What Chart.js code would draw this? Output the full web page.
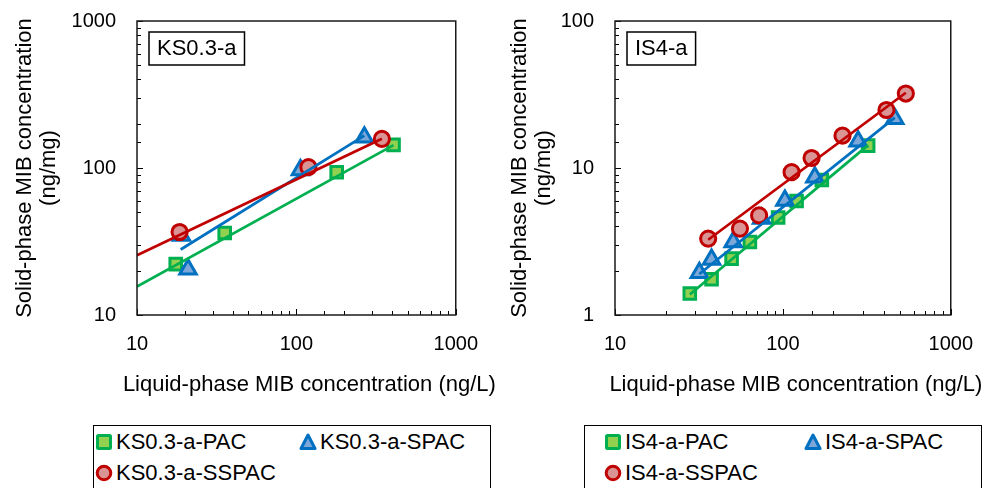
<!DOCTYPE html>
<html>
<head>
<meta charset="utf-8">
<script src="https://cdn.jsdelivr.net/npm/chart.js@4"></script>
<style>
  body { margin: 0; background: #fff; width: 990px; height: 488px; overflow: hidden; position: relative;
         font-family: "Liberation Sans", Arial, sans-serif; }
  canvas { position: absolute; top: -12px; }
  .legend { position: absolute; top: 425px; height: 80px; width: 398px; border: 1.5px solid #000;
            box-sizing: border-box; font-size: 22px; color: #000; }
  .item { position: absolute; display: flex; align-items: center; white-space: nowrap; height: 26px; }
  .item span { margin-left: 3px; }
</style>
</head>
<body>
<canvas id="chartKS" width="495" height="432" style="left:0"></canvas>
<canvas id="chartIS" width="495" height="432" style="left:495px"></canvas>
<div class="legend" id="legKS" style="left:93px"></div>
<div class="legend" id="legIS" style="left:584px"></div>
<script>
// KS0.3-a
const ksPacX = [17.5, 35.5, 179, 407]
const ksPacY = [22.2, 36.1, 93.6, 143.6]
const ksSpacX = [20.9, 19, 106, 267]
const ksSpacY = [20.5, 34.8, 97, 162]
const ksSspacX = [18.5, 119, 344]
const ksSspacY = [36.7, 101.3, 157.8]
// fitted lines (end points)
const ksPacFitX = [10, 407]
const ksPacFitY = [15.6, 143]
const ksSpacFitX = [18.8, 267]
const ksSpacFitY = [27.9, 166]
const ksSspacFitX = [10, 344]
const ksSspacFitY = [25.5, 158]

// IS4-a
const isPacX = [27.9, 37.6, 49.5, 63.6, 93.7, 120.7, 170.6, 322]
const isPacY = [1.40, 1.75, 2.42, 3.14, 4.6, 5.96, 8.29, 14.2]
const isSpacX = [31.8, 37.6, 50.6, 74.7, 102.8, 155, 280.6, 464]
const isSpacY = [1.94, 2.39, 3.14, 4.53, 6.02, 8.66, 15.2, 21.6]
const isSspacX = [35.9, 55.5, 72.2, 112.7, 148.2, 226.6, 414, 540]
const isSspacY = [3.31, 3.87, 4.76, 9.37, 11.7, 16.6, 24.8, 32.1]
const isPacFitX = [27.9, 322]
const isPacFitY = [1.38, 14.3]
const isSpacFitX = [31.8, 464]
const isSpacFitY = [1.9, 22]
const isSspacFitX = [35.9, 540]
const isSspacFitY = [3.25, 32.5]

const xTitle = "Liquid-phase MIB concentration (ng/L)"
const yTitle = ["Solid-phase MIB concentration", "(ng/mg)"]

const FONT = '"Liberation Sans", Arial, sans-serif'
const styles = {
  PAC:   { border: "#00B050", fill: "#92D050", point: "rect", radius: 8.2 },
  SPAC:  { border: "#0070C0", fill: "#7DA7D9", point: "triangle", radius: 9.5 },
  SSPAC: { border: "#C00000", fill: "#DB9494", point: "circle", radius: 7.6 },
}

function pts(xs, ys) {
  return xs.map((x, i) => ({ x: x, y: ys[i] }))
}

function isMajor(v) {
  const l = Math.log10(v)
  return Math.abs(Math.round(l) - l) < 1e-9
}

function markers(label, xs, ys, st, order) {
  return {
    label: label, data: pts(xs, ys), showLine: false, order: order,
    pointStyle: st.point, pointRadius: st.radius, pointHoverRadius: st.radius,
    pointBackgroundColor: st.fill, pointBorderColor: st.border, pointBorderWidth: 3,
  }
}

function fitLine(xs, ys, st) {
  return {
    label: "", data: pts(xs, ys), showLine: true, order: 0,
    borderColor: st.border, borderWidth: 2.75, pointRadius: 0, pointHoverRadius: 0,
  }
}

const framePlugin = {
  id: "frame",
  afterDraw(chart) {
    const { ctx, chartArea: a, scales } = chart
    const o = chart.options.plugins.frame
    ctx.save()
    ctx.strokeStyle = "#000"
    ctx.lineWidth = 1
    scales.x.ticks.forEach((t) => {
      const px = Math.round(scales.x.getPixelForValue(t.value)) + 0.5
      const len = isMajor(t.value) ? 6 : 4
      ctx.beginPath(); ctx.moveTo(px, a.bottom); ctx.lineTo(px, a.bottom - len); ctx.stroke()
    })
    scales.y.ticks.forEach((t) => {
      const py = Math.round(scales.y.getPixelForValue(t.value)) + 0.5
      const len = isMajor(t.value) ? 6 : 4
      ctx.beginPath(); ctx.moveTo(a.left, py); ctx.lineTo(a.left + len, py); ctx.stroke()
    })
    ctx.lineWidth = 1.5
    ctx.strokeStyle = "#1a1a1a"
    ctx.strokeRect(a.left, a.top, a.right - a.left, a.bottom - a.top)

    // sample name box
    ctx.font = "22px " + FONT
    const w = ctx.measureText(o.name).width + 16
    ctx.lineWidth = 1.5
    ctx.strokeStyle = "#000"
    ctx.strokeRect(a.left + 12, a.top + 11, w, 33)
    ctx.fillStyle = "#000"
    ctx.textBaseline = "middle"
    ctx.textAlign = "left"
    ctx.fillText(o.name, a.left + 20, a.top + 28)

    // x axis title
    ctx.textAlign = "center"
    ctx.fillText(xTitle, (a.left + a.right) / 2 + 13, a.bottom + 70)
    ctx.restore()
  },
}

function makeChart(id, name, yMin, yMax, yWidth, padRight, datasets) {
  return new Chart(document.getElementById(id), {
    type: "scatter",
    data: { datasets: datasets },
    plugins: [framePlugin],
    options: {
      responsive: false,
      animation: false,
      layout: { padding: { top: 8, right: padRight, left: 0, bottom: 0 } },
      plugins: { legend: { display: false }, tooltip: { enabled: false }, frame: { name: name } },
      scales: {
        x: {
          type: "logarithmic", min: 10, max: 1000,
          grid: { display: false, drawTicks: false }, border: { display: false },
          ticks: { autoSkip: false, maxRotation: 0, padding: 17, color: "#000",
                   font: { family: FONT, size: 20 },
                   callback: (v) => isMajor(v) ? String(v) : "" },
          afterFit: (s) => { s.height = 105 },
        },
        y: {
          type: "logarithmic", min: yMin, max: yMax,
          grid: { display: false, drawTicks: false }, border: { display: false },
          ticks: { autoSkip: false, padding: 21, color: "#000",
                   font: { family: FONT, size: 20 },
                   callback: (v) => isMajor(v) ? String(v) : "" },
          title: { display: true, text: yTitle, color: "#000", padding: { top: 13, bottom: 0 },
                   font: { family: FONT, size: 22, lineHeight: 1.1 } },
          afterFit: (s) => { s.width = yWidth },
        },
      },
    },
  })
}

makeChart("chartKS", "KS0.3-a", 10, 1000, 137, 35, [
  fitLine(ksSspacFitX, ksSspacFitY, styles.SSPAC),
  fitLine(ksSpacFitX, ksSpacFitY, styles.SPAC),
  fitLine(ksPacFitX, ksPacFitY, styles.PAC),
  markers("KS0.3-a-SSPAC", ksSspacX, ksSspacY, styles.SSPAC, 1),
  markers("KS0.3-a-SPAC", ksSpacX, ksSpacY, styles.SPAC, 2),
  markers("KS0.3-a-PAC", ksPacX, ksPacY, styles.PAC, 3),
])

makeChart("chartIS", "IS4-a", 1, 100, 120, 39, [
  fitLine(isSspacFitX, isSspacFitY, styles.SSPAC),
  fitLine(isSpacFitX, isSpacFitY, styles.SPAC),
  fitLine(isPacFitX, isPacFitY, styles.PAC),
  markers("IS4-a-SSPAC", isSspacX, isSspacY, styles.SSPAC, 1),
  markers("IS4-a-SPAC", isSpacX, isSpacY, styles.SPAC, 2),
  markers("IS4-a-PAC", isPacX, isPacY, styles.PAC, 3),
])

// legends
function markerSvg(kind) {
  const st = styles[kind]
  let shape
  if (kind === "PAC") shape = '<rect x="2.5" y="2.5" width="13" height="13" rx="1" fill="' + st.fill + '" stroke="' + st.border + '" stroke-width="3"/>'
  else if (kind === "SPAC") shape = '<polygon points="9,2 16,15.5 2,15.5" fill="' + st.fill + '" stroke="' + st.border + '" stroke-width="3" stroke-linejoin="round"/>'
  else shape = '<circle cx="9" cy="9" r="6.8" fill="' + st.fill + '" stroke="' + st.border + '" stroke-width="3"/>'
  return '<svg width="18" height="18" viewBox="0 0 18 18">' + shape + '</svg>'
}

function buildLegend(id, prefix, col1, col2) {
  const el = document.getElementById(id)
  const items = [["PAC", col1, 16], ["SPAC", col2, 16], ["SSPAC", col1, 47]]
  items.forEach(([kind, cx, cy]) => {
    const d = document.createElement("div")
    d.className = "item"
    d.style.left = (cx - 9) + "px"
    d.style.top = (cy - 13) + "px"
    d.innerHTML = markerSvg(kind) + "<span>" + prefix + kind + "</span>"
    el.appendChild(d)
  })
}
buildLegend("legKS", "KS0.3-a-", 10, 214)
buildLegend("legIS", "IS4-a-", 28, 228)
</script>
</body>
</html>
